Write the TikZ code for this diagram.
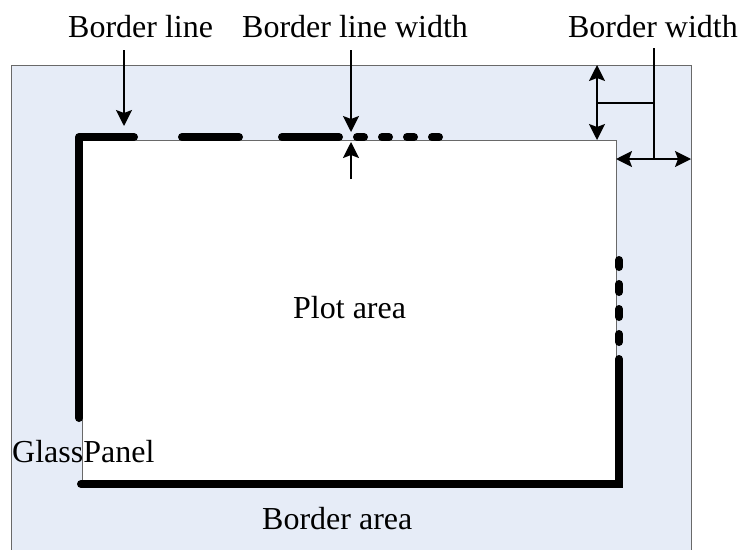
\documentclass[tikz,border=0pt]{standalone}
\usepackage{fontspec}
\setmainfont{Liberation Serif}
\usetikzlibrary{arrows.meta}
\definecolor{panelblue}{RGB}{230,236,247}
\definecolor{edgegray}{RGB}{105,105,105}

\begin{document}
\begin{tikzpicture}[x=1pt,y=-1pt,
  lbl/.style={inner sep=0pt, anchor=base west, font=\fontsize{32}{38}\selectfont},
  thickline/.style={line width=8pt, line cap=round, line join=round},
  pointer/.style={line width=1.6pt, -{Stealth[length=16pt,width=16pt,inset=3pt]}},
  dbl/.style={line width=1.6pt, {Stealth[length=16pt,width=16pt,inset=3pt]}-{Stealth[length=16pt,width=16pt,inset=3pt]}},
  leader/.style={line width=1.6pt}]
\useasboundingbox (0,0) rectangle (741,549);

% glass panel (border area)
\fill[panelblue] (11,65) rectangle (691,560);
\draw[edgegray, line width=1pt] (11,560) -- (11,65) -- (691,65) -- (691,560);

% plot area
\filldraw[fill=white, draw=edgegray, line width=1pt] (82,140) rectangle (616,480);

% border line: solid, dashed and dotted parts
\draw[thickline] (79,418) -- (79,137) -- (134,137);
\draw[thickline] (182,137) -- (239,137);
\draw[thickline] (282,137) -- (339,137);
\foreach \a/\b in {357/364, 382/389, 407/414, 432/439}
  \draw[thickline] (\a,137) -- (\b,137);
\foreach \a/\b in {260/267, 284/292, 309/317, 334/342}
  \draw[thickline] (619,\a) -- (619,\b);
\draw[line width=8pt, line cap=round, line join=miter] (619,359) -- (619,484) -- (81,484);

% labels
\node[lbl] (bline) at (68,37) {Border line};
\node[lbl] (blwidth) at (242,37) {Border line width};
\node[lbl, anchor=base] (bwidth) at (653,37) {Border width};
\node[lbl] (plot) at (293,318) {Plot area};
\node[lbl] (glass) at (12,462) {GlassPanel};
\node[lbl] (barea) at (262,529) {Border area};

% arrow end points
\coordinate (bl-from) at (124,50);
\coordinate (bl-to) at (124,126);
\coordinate (lw-from) at (351,50);
\coordinate (lw-to) at (351,132);
\coordinate (lw-up-from) at (351,179);
\coordinate (lw-up-to) at (351,142);
\coordinate (bw-from) at (654,48);
\coordinate (bw-knee) at (654,103);
\coordinate (bw-foot) at (654,159);
\coordinate (bw-side) at (597,103);
\coordinate (v-top) at (597,65);
\coordinate (v-bot) at (597,140);
\coordinate (h-left) at (616,159);
\coordinate (h-right) at (691,159);

% arrows
\draw[pointer] (bl-from) -- (bl-to);
\draw[pointer] (lw-from) -- (lw-to);
\draw[pointer] (lw-up-from) -- (lw-up-to);
\draw[leader] (bw-from) -- (bw-foot);
\draw[leader] (bw-side) -- (bw-knee);
\draw[dbl] (v-top) -- (v-bot);
\draw[dbl] (h-left) -- (h-right);
\end{tikzpicture}
\end{document}
